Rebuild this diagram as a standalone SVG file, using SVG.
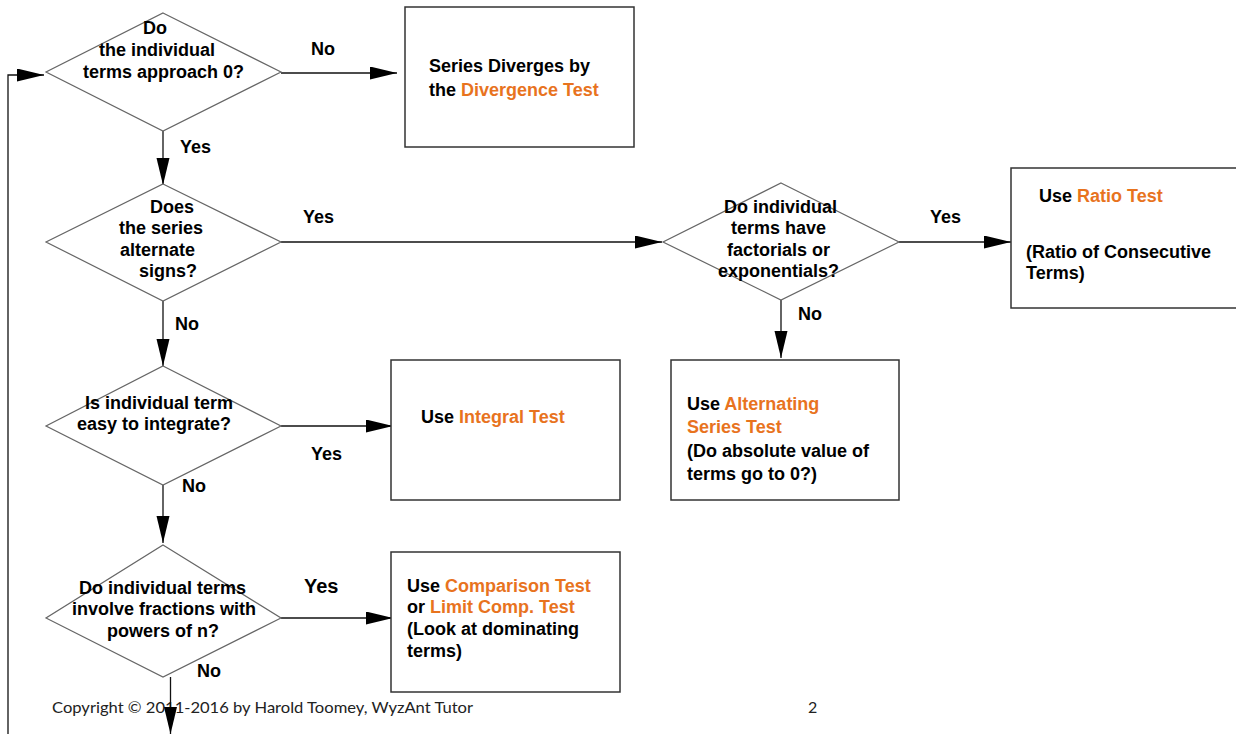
<svg xmlns="http://www.w3.org/2000/svg" width="1236" height="734" viewBox="0 0 1236 734">
<defs>
<style>
.t{font-family:"Liberation Sans",Arial,sans-serif;font-weight:bold;font-size:18px;fill:#000}
.o{fill:#E8731E}
.dia{fill:#fff;stroke:#666;stroke-width:1.2}
.box{fill:#fff;stroke:#333;stroke-width:1.5}
.con{fill:none;stroke:#111;stroke-width:1.3}
.foot{font-family:Lato,"Open Sans",sans-serif;font-size:16px;fill:#222}
</style>
<marker id="ah" markerUnits="userSpaceOnUse" markerWidth="28" markerHeight="14" refX="27" refY="6.5" orient="auto">
<path d="M0,0 L27,6.5 L0,13 z" fill="#000"/>
</marker>
</defs>
<rect width="1236" height="734" fill="#fff"/>

<g id="copyright">
<text class="foot" x="52" y="713" textLength="421" lengthAdjust="spacingAndGlyphs">Copyright © 2011-2016 by Harold Toomey, WyzAnt Tutor</text>
<text class="foot" x="808" y="713">2</text>
</g>

<g id="connectors">
<path class="con" d="M8,734 V75 H44" marker-end="url(#ah)"/>
<path class="con" d="M281,73 H397" marker-end="url(#ah)"/>
<path class="con" d="M163,131 V185" marker-end="url(#ah)"/>
<path class="con" d="M281,242 H662" marker-end="url(#ah)"/>
<path class="con" d="M899,242 H1011" marker-end="url(#ah)"/>
<path class="con" d="M781,300 V358" marker-end="url(#ah)"/>
<path class="con" d="M163,301 V366" marker-end="url(#ah)"/>
<path class="con" d="M281,426 H393" marker-end="url(#ah)"/>
<path class="con" d="M163,485 V543" marker-end="url(#ah)"/>
<path class="con" d="M281,618 H393" marker-end="url(#ah)"/>
<path class="con" d="M170.5,677 V734" marker-end="url(#ah)"/>
<text class="t" x="311" y="55">No</text>
<text class="t" x="180" y="153">Yes</text>
<text class="t" x="303" y="223">Yes</text>
<text class="t" x="175" y="330">No</text>
<text class="t" x="930" y="223">Yes</text>
<text class="t" x="798" y="320">No</text>
<text class="t" x="311" y="460">Yes</text>
<text class="t" x="182" y="492">No</text>
<text class="t" x="304" y="593" style="font-size:20px">Yes</text>
<text class="t" x="197" y="677">No</text>
</g>

<g id="q-approach0">
<polygon class="dia" points="163,13 281,72 163,131 46,72"/>
<text class="t" x="143" y="34">Do</text>
<text class="t" x="99" y="56">the individual</text>
<text class="t" x="83" y="78">terms approach 0?</text>
</g>

<g id="divergence">
<rect class="box" x="405" y="7" width="229" height="140"/>
<text class="t" x="429" y="72">Series Diverges by</text>
<text class="t" x="429" y="96">the <tspan class="o">Divergence Test</tspan></text>
</g>

<g id="q-alternate">
<polygon class="dia" points="163,184 281,242 163,301 46,242"/>
<text class="t" x="150" y="213">Does</text>
<text class="t" x="119" y="234">the series</text>
<text class="t" x="120" y="256">alternate</text>
<text class="t" x="139" y="277">signs?</text>
</g>

<g id="q-factorial">
<polygon class="dia" points="781,183 899,242 781,300 663,242"/>
<text class="t" x="724" y="213">Do individual</text>
<text class="t" x="731" y="234">terms have</text>
<text class="t" x="727" y="256">factorials or</text>
<text class="t" x="718" y="277">exponentials?</text>
</g>

<g id="ratio">
<rect class="box" x="1011" y="168" width="240" height="140"/>
<text class="t" x="1039" y="202">Use <tspan class="o">Ratio Test</tspan></text>
<text class="t" x="1026" y="258">(Ratio of Consecutive</text>
<text class="t" x="1026" y="279">Terms)</text>
</g>

<g id="q-integrate">
<polygon class="dia" points="163,366 281,426 163,485 46,426"/>
<text class="t" x="85" y="409">Is individual term</text>
<text class="t" x="77" y="430">easy to integrate?</text>
</g>

<g id="integral">
<rect class="box" x="391" y="360" width="229" height="140"/>
<text class="t" x="421" y="423">Use <tspan class="o">Integral Test</tspan></text>
</g>

<g id="alternating">
<rect class="box" x="671" y="360" width="228" height="140"/>
<text class="t" x="687" y="410">Use <tspan class="o">Alternating</tspan></text>
<text class="t o" x="687" y="433">Series Test</text>
<text class="t" x="687" y="457">(Do absolute value of</text>
<text class="t" x="687" y="480">terms go to 0?)</text>
</g>

<g id="q-powers">
<polygon class="dia" points="163,545 281,618 163,677 46,618"/>
<text class="t" x="79" y="594">Do individual terms</text>
<text class="t" x="72" y="615">involve fractions with</text>
<text class="t" x="107" y="637">powers of n?</text>
</g>

<g id="comparison">
<rect class="box" x="391" y="552" width="229" height="140"/>
<text class="t" x="407" y="592">Use <tspan class="o">Comparison Test</tspan></text>
<text class="t" x="407" y="613">or <tspan class="o">Limit Comp. Test</tspan></text>
<text class="t" x="407" y="635">(Look at dominating</text>
<text class="t" x="407" y="657">terms)</text>
</g>
</svg>
